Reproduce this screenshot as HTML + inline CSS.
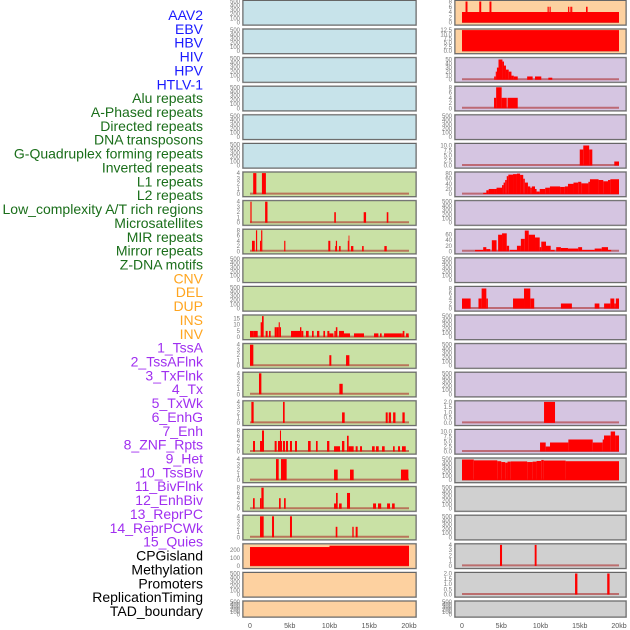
<!DOCTYPE html>
<html><head><meta charset="utf-8">
<style>
html,body{margin:0;padding:0;background:#fff;}
svg{display:block;}
</style></head>
<body>
<svg id="chart" width="630" height="630" viewBox="0 0 630 630" xmlns="http://www.w3.org/2000/svg" font-family="Liberation Sans, sans-serif"></svg>
<script>
// ---- data ----
const labels = ["AAV2","EBV","HBV","HIV","HPV","HTLV-1","Alu repeats","A-Phased repeats","Directed repeats","DNA transposons","G-Quadruplex forming repeats","Inverted repeats","L1 repeats","L2 repeats","Low_complexity A/T rich regions","Microsatellites","MIR repeats","Mirror repeats","Z-DNA motifs","CNV","DEL","DUP","INS","INV","1_TssA","2_TssAFlnk","3_TxFlnk","4_Tx","5_TxWk","6_EnhG","7_Enh","8_ZNF_Rpts","9_Het","10_TssBiv","11_BivFlnk","12_EnhBiv","13_ReprPC","14_ReprPCWk","15_Quies","CPGisland","Methylation","Promoters","ReplicationTiming","TAD_boundary"];
const labelGroups = ["v","v","v","v","v","v","r","r","r","r","r","r","r","r","r","r","r","r","r","s","s","s","s","s","c","c","c","c","c","c","c","c","c","c","c","c","c","c","c","k","k","k","k","k"];
const xTickLabels = ["0","5kb","10kb","15kb","20kb"];
const xTickValues = [0,5,10,15,20];
const leftColors = ["b","b","b","b","b","b","g","g","g","g","g","g","g","g","g","g","g","g","g","p","p","p"];
const rightColors = ["p","p","u","u","u","u","u","u","u","u","u","u","u","u","u","u","k","k","k","k","k","k"];
const emptyTicks = [0,100,200,300,400,500];
const ticks4 = [0,1,2,3,4];
const ticks8 = [0,2,4,6,8];

const L_L1 = [[0.4,0.8,4],[1.5,2.0,4]];
const L_L2 = [[0.05,0.2,4],[1.9,2.2,4],[10.6,10.8,2],[14.3,14.6,2],[17.2,17.4,2]];
const L_MIR = [[0.25,0.6,4],[0.75,0.9,8],[1.26,1.4,4],[1.4,1.55,8],[4.3,4.45,4],[9.85,10.1,4],[10.7,10.8,2],[10.8,10.95,4],[11.2,11.4,2],[12.3,12.4,4],[12.4,12.5,6],[12.7,13.0,2],[14.1,14.3,2],[16.9,17.2,2]];
const L_INS = [[0,0.42,5],[0.42,0.97,5],[1.34,1.51,12],[1.51,1.72,17],[1.97,2.22,5],[2.39,2.6,5],[3.1,3.31,8],[3.31,3.61,8],[3.61,3.75,12],[3.75,3.9,8],[5.16,6.29,5],[6.29,6.46,8],[6.46,6.71,5],[7.04,7.38,5],[7.8,8.01,5],[8.43,8.72,5],[9.23,9.44,5],[9.73,9.98,5],[9.98,10.49,3],[10.61,10.8,5],[10.8,10.99,8],[11.2,11.82,5],[11.82,12.58,3],[13.08,14.34,3],[15.6,16.15,3],[16.35,16.56,3],[16.86,19.08,3],[19.08,19.21,3],[19.21,19.42,5],[19.63,19.96,3]];
const L_TssA = [[0,0.42,4],[9.98,10.23,2],[12.08,12.5,2]];
const L_TssAFlnk = [[1.13,1.43,4],[11.24,11.66,2]];
const L_TxFlnk = [[0.17,0.46,4],[4.15,4.36,4],[11.58,11.91,2],[17.07,17.32,2],[17.45,17.74,2],[18.0,18.3,2],[19.17,19.46,2]];
const L_Tx = [[0.38,0.63,4],[1.26,1.51,4],[1.51,1.76,8],[3.1,3.35,4],[3.52,3.77,4],[3.77,3.9,8],[3.9,4.03,4],[4.15,4.4,4],[4.53,4.78,4],[5.03,5.28,4],[5.66,5.91,4],[7.3,7.63,4],[8.3,8.51,4],[9.69,9.98,4],[10.57,11.32,2],[11.57,11.87,4],[12.2,12.41,6],[12.41,13.04,2],[13.29,13.54,2],[13.84,14.09,2],[15.35,15.68,2],[15.85,16.19,2],[16.61,16.94,2],[17.99,18.2,2],[18.62,18.87,2],[19.12,19.59,2]];
const L_TxWk = [[3.27,3.61,4],[3.9,4.61,4],[10.57,11.03,2],[12.58,13.04,2],[18.99,19.92,2]];
const L_EnhG = [[0.38,0.59,4],[1.26,1.43,4],[1.43,1.72,8],[3.65,3.86,4],[4.28,4.49,4],[10.57,10.82,2],[10.82,11.03,6],[11.2,11.53,2],[12.2,12.58,6],[15.48,15.85,2],[16.1,16.5,2],[17.24,17.61,2],[17.87,18.2,2]];
const L_Enh = [[1.26,1.72,4],[2.77,3.02,4],[5.03,5.28,4],[10.78,10.99,2],[12.87,13.04,2],[13.29,13.54,2]];
const L_CpG = [[0,10,238],[10,20,255]];

const R_AAV2 = [[0,20,4],[0.45,0.7,8],[2.2,2.45,8],[3.5,3.75,8],[10.9,11.05,6],[11.15,11.3,6],[13.5,13.62,6],[13.72,13.84,6],[13.9,14.05,6],[15.8,16.0,6]];
const R_EBV = [[0,20,12.5]];
const R_HIV = [[4.1,4.3,8],[4.3,4.45,20],[4.45,4.65,30],[4.65,5.15,50],[5.15,5.35,45],[5.35,5.6,35],[5.6,5.95,25],[5.95,6.3,20],[6.3,6.6,10],[6.6,7.1,8],[8.3,9.0,8],[9.3,10.1,8],[11.0,11.5,5]];
const R_Alu = [[4.08,4.35,4],[4.35,5.05,8],[5.05,5.7,4],[5.8,7.1,4]];
const R_GQ = [[15.0,15.45,8],[15.45,16.2,10],[16.2,16.6,8],[19.4,20,2]];
const R_L1 = [[2.7,3.1,5],[3.1,3.4,15],[3.4,4.2,20],[4.2,4.4,20],[4.4,5.1,25],[5.1,5.3,35],[5.3,5.5,45],[5.5,5.7,55],[5.7,5.9,70],[5.9,6.5,76],[6.5,7.0,78],[7.0,7.4,80],[7.4,7.8,75],[7.8,8.0,60],[8.0,8.4,45],[8.4,8.7,30],[8.7,8.9,25],[8.9,9.3,30],[9.3,9.5,20],[9.5,9.9,10],[9.9,10.6,20],[10.6,11.2,25],[11.2,12.5,30],[12.5,13.1,28],[13.1,13.5,30],[13.5,14.2,40],[14.2,14.8,45],[14.8,15.2,48],[15.2,16.1,42],[16.1,16.3,48],[16.3,17.4,58],[17.4,18.0,55],[18.0,18.6,50],[18.6,18.9,55],[18.9,20,58]];
const R_MIR = [[1.66,2.7,5],[2.7,3.1,15],[3.1,3.6,8],[3.8,4.4,40],[4.6,5.1,60],[5.1,5.7,65],[5.7,6.0,20],[6.1,7.0,5],[7.0,7.5,20],[7.5,8.0,45],[8.0,8.5,75],[8.5,9.3,60],[9.3,9.9,50],[9.9,10.1,15],[10.1,10.7,35],[10.7,11.3,20],[11.3,11.8,5],[12.0,12.6,15],[12.6,13.5,12],[13.5,14.8,10],[14.8,15.3,15],[15.3,16.9,5],[16.9,17.8,10],[17.8,18.6,15],[18.6,19.0,5]];
const R_DUP = [[0,1.1,4],[2.1,2.5,4],[2.5,3.1,8],[3.1,3.3,4],[6.5,7.9,4],[7.9,8.7,8],[8.7,9.2,4],[12.6,14.0,2],[16.9,17.5,2],[18.1,18.9,2],[18.9,19.4,4],[19.4,19.6,2],[19.6,20,4]];
const R_EnhG = [[10.45,11.85,2]];
const R_Enh = [[9.94,10.66,4.5],[10.66,11.21,2.5],[11.21,13.55,4.5],[13.55,16.65,6],[16.65,17.92,4.5],[17.92,18.09,6],[18.09,18.94,8],[18.94,19.5,10],[19.5,20,8]];
const R_ZNF = [[0,1.5,490],[1.5,4.5,470],[4.5,5.0,450],[5.0,5.5,430],[5.5,5.8,415],[5.8,6.2,440],[6.2,8.3,445],[8.3,9.0,430],[9.0,9.5,440],[9.5,10.1,455],[10.1,10.4,480],[10.4,13.2,465],[13.2,20,450]];
const R_Meth = [[4.84,5.1,4],[9.26,9.5,4]];
const R_Prom = [[14.4,14.7,2],[18.5,18.8,2]];

// row definitions: [data, ymax, ticks, tickFormatter]
const leftRows = [
 [null,500,emptyTicks],[null,500,emptyTicks],[null,500,emptyTicks],[null,500,emptyTicks],[null,500,emptyTicks],[null,500,emptyTicks],
 [L_L1,4,ticks4],[L_L2,4,ticks4],[L_MIR,8,ticks8],[null,500,emptyTicks],[null,500,emptyTicks],[L_INS,17,[0,5,10,15]],
 [L_TssA,4,ticks4],[L_TssAFlnk,4,ticks4],[L_TxFlnk,4,ticks4],[L_Tx,8,ticks8],[L_TxWk,4,ticks4],[L_EnhG,8,ticks8],[L_Enh,4,ticks4],
 [L_CpG,265,[0,100,200]],[null,500,emptyTicks],[null,500,emptyTicks]
];
const rightRows = [
 [R_AAV2,8,ticks8],[R_EBV,12.5,[0,2.5,5,7.5,10,12.5],1],[R_HIV,52,[0,10,20,30,40,50]],[R_Alu,8,ticks8],[null,500,emptyTicks],[R_GQ,10.5,[0,2.5,5,7.5,10],1],
 [R_L1,82,[0,20,40,60,80]],[null,500,emptyTicks],[R_MIR,76,[0,20,40,60]],[null,500,emptyTicks],[R_DUP,8.4,ticks8],[null,500,emptyTicks],
 [null,500,emptyTicks],[null,500,emptyTicks],[R_EnhG,2,[0,0.5,1,1.5,2],1],[R_Enh,10.5,[0,2.5,5,7.5,10],1],[R_ZNF,500,emptyTicks],[null,500,emptyTicks],
 [null,500,emptyTicks],[R_Meth,4,ticks4],[R_Prom,2,[0,0.5,1,1.5,2],1],[null,500,emptyTicks]
];

// ---- drawing ----
const NS = "http://www.w3.org/2000/svg";
const svg = document.getElementById("chart");
function mk(tag, attrs, parent){ const e=document.createElementNS(NS,tag); for(const k in attrs) e.setAttribute(k,attrs[k]); (parent||svg).appendChild(e); return e; }
const fills = {b:"#c7e3ea",g:"#c9e1a5",p:"#fdd1a0",u:"#d5c5e1",k:"#d0d0d0"};
const textColors = {v:"#1a1aff",r:"#1a6e1a",s:"#ffa51f",c:"#a02ff0",k:"#000"};

labels.forEach((t,i)=>{
  const el = mk("text",{x:203,y:20+i*13.86,"text-anchor":"end","font-size":"14",fill:textColors[labelGroups[i]]});
  el.textContent = t;
  
  
});

function rowGeom(i){ const top = i*28.6; const h = i===21 ? 16.4 : 25; return {top,h}; }

function drawPanel(side, i, def, color){
  const g = rowGeom(i);
  const px0 = side==="L" ? 243 : 455, pw = side==="L" ? 173 : 171;
  const x0 = side==="L" ? 250 : 462, x1 = side==="L" ? 409 : 619;
  const xs = v => x0 + (v/20)*(x1-x0);
  const base = g.top + g.h - 2.5, topY = g.top + 1.5;
  const [data, ymax, ticks, dec] = def;
  const ys = v => base - (v/ymax)*(base-topY);
  const grp = mk("g",{});
  
  
  mk("rect",{x:px0-1,y:g.top-0.5,width:pw+2,height:g.h+1.5,fill:"#b8b8b8"},grp);
  mk("rect",{x:px0,y:g.top+0.5,width:pw,height:g.h-0.5,fill:fills[color],stroke:"#666","stroke-width":1},grp);
  if(data){
    mk("line",{x1:xs(0),x2:xs(20),y1:base-0.5,y2:base-0.5,stroke:"rgba(170,30,30,0.55)","stroke-width":2},grp);
    data.forEach(d=>{
      const r = mk("rect",{x:xs(d[0]),y:ys(d[2]),width:Math.max(0.8,xs(d[1])-xs(d[0])),height:base-ys(d[2]),fill:"#ff0000"},grp);
      
      
    });
  }
  ticks.forEach(t=>{
    const tx = mk("text",{x:px0-3,y:ys(t)+2,"text-anchor":"end","font-size":"6",fill:"#777"},grp);
    tx.textContent = dec ? t.toFixed(1) : String(t);
    
    
  });
}
for(let i=0;i<22;i++){
  drawPanel("L",i,leftRows[i],leftColors[i]);
  drawPanel("R",i,rightRows[i],rightColors[i]);
}
["L","R"].forEach(side=>{
  const x0 = side==="L" ? 250 : 462, x1 = side==="L" ? 409 : 619;
  xTickValues.forEach((v,j)=>{
    const tx = mk("text",{x:x0+(v/20)*(x1-x0),y:628,"text-anchor":"middle","font-size":"7",fill:"#555"});
    tx.textContent = xTickLabels[j];
    
    
  });
});
</script>
</body></html>
